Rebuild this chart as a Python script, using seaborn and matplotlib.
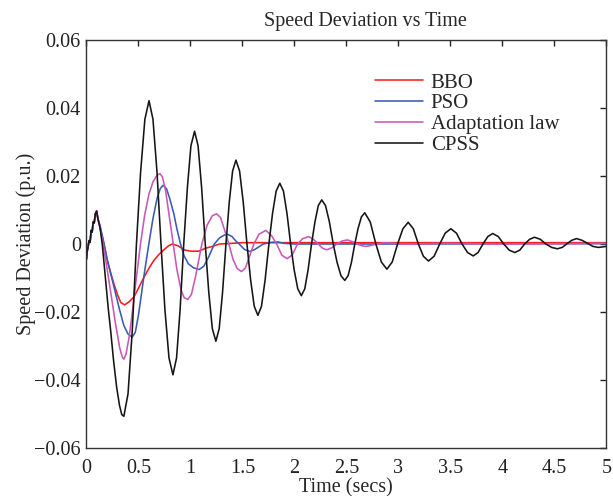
import numpy as np
import pandas as pd
import matplotlib
matplotlib.use("Agg")
import matplotlib.pyplot as plt
import seaborn as sns

# ---- data ----
start_t = [0.0, 0.008, 0.015, 0.025, 0.035, 0.045, 0.055, 0.065, 0.075, 0.085, 0.098, 0.11]
start_v = [-0.0045, -0.002, -0.001, 0.001, 0.0005, 0.004, 0.0035, 0.0065, 0.0062, 0.0088, 0.0097, 0.0075]

bbo_t = [0.13, 0.168, 0.2, 0.233, 0.264, 0.3, 0.33, 0.367, 0.41, 0.457, 0.5, 0.553,
         0.6, 0.649, 0.7, 0.745, 0.79, 0.825, 0.88, 0.94, 1.0, 1.08, 1.15, 1.2,
         1.28, 1.4, 1.51, 2.0, 3.0, 4.0, 5.0]
bbo_v = [0.005, 0.0, -0.0048, -0.0085, -0.0117, -0.015, -0.0172, -0.0179, -0.017, -0.0156, -0.013, -0.0098,
         -0.0072, -0.0048, -0.003, -0.0017, -0.0005, 0.0, -0.0005, -0.0017, -0.0021, -0.0021, -0.0012, -0.0008,
         0.0, 0.0002, 0.0004, 0.0004, 0.0004, 0.0004, 0.0004]

pso_t = [0.13, 0.16, 0.2, 0.24, 0.28, 0.32, 0.36, 0.40, 0.44, 0.47, 0.5, 0.53, 0.56, 0.60,
         0.64, 0.68, 0.71, 0.738, 0.77, 0.80, 0.84, 0.87, 0.905, 0.94, 0.98, 1.03, 1.085,
         1.13, 1.18, 1.23, 1.28, 1.33, 1.363, 1.4, 1.44, 1.47, 1.52, 1.572, 1.62, 1.7,
         1.78, 1.844, 1.9, 2.0, 3.0, 5.0]
pso_v = [0.0055, 0.0015, -0.0045, -0.0095, -0.0145, -0.0195, -0.024, -0.0265, -0.0274, -0.026, -0.021, -0.0145, -0.008, 0.0,
         0.0075, 0.0135, 0.0163, 0.0173, 0.0163, 0.0135, 0.009, 0.0045, 0.0, -0.0035, -0.0058, -0.007, -0.0075,
         -0.0065, -0.0035, 0.0, 0.0018, 0.0027, 0.0028, 0.0022, 0.0008, 0.0, -0.0016, -0.0022, -0.0016, 0.0,
         0.0005, 0.0006, 0.0002, 0.0, 0.0, 0.0001]

adl_t = [0.13, 0.16, 0.2, 0.24, 0.28, 0.32, 0.345, 0.36, 0.38, 0.41, 0.44, 0.48, 0.52, 0.56,
         0.60, 0.64, 0.68, 0.707, 0.73, 0.76, 0.80, 0.835, 0.87, 0.91, 0.94, 0.976, 1.01,
         1.05, 1.11, 1.16, 1.21, 1.252, 1.29, 1.33, 1.37, 1.41, 1.45, 1.492, 1.53, 1.57,
         1.61, 1.66, 1.726, 1.78, 1.83, 1.88, 1.93, 1.98, 2.03, 2.08, 2.14, 2.19, 2.23,
         2.27, 2.31, 2.36, 2.41, 2.46, 2.51, 2.56, 2.6, 2.65, 2.69, 2.74, 2.79, 2.88,
         2.95, 3.05, 3.5, 4.0, 5.0]
adl_v = [0.005, 0.0, -0.0075, -0.0155, -0.0235, -0.0305, -0.0333, -0.0339, -0.0325, -0.0275, -0.0205, -0.01, 0.0, 0.0085,
         0.0145, 0.0183, 0.0203, 0.0207, 0.0198, 0.016, 0.0075, 0.0, -0.0075, -0.0135, -0.0158, -0.0163, -0.0148,
         -0.0095, 0.0, 0.0055, 0.0083, 0.0089, 0.0078, 0.004, 0.0, -0.0045, -0.0072, -0.0081, -0.007, -0.0035,
         0.0, 0.0029, 0.004, 0.0025, 0.0, -0.0033, -0.0043, -0.0032, 0.0, 0.0016, 0.0022, 0.0012, 0.0,
         -0.0012, -0.0017, -0.0011, 0.0, 0.0009, 0.0012, 0.0007, 0.0, -0.0005, -0.0007, -0.0004, 0.0, 0.0004,
         0.0002, 0.0, 0.0002, 0.0, 0.0002]

cpss_t = [0.13, 0.152, 0.185, 0.21, 0.233, 0.26, 0.29, 0.318, 0.34, 0.36,
          0.40, 0.441, 0.481, 0.521, 0.562, 0.602,
          0.640, 0.679, 0.717, 0.755, 0.794, 0.832,
          0.867, 0.901, 0.936, 0.971, 1.005, 1.04,
          1.074, 1.108, 1.143, 1.177, 1.211, 1.245,
          1.277, 1.309, 1.342, 1.374, 1.406, 1.438,
          1.473, 1.508, 1.544, 1.579, 1.614, 1.649,
          1.684, 1.719, 1.755, 1.79, 1.825, 1.86,
          1.895, 1.929, 1.964, 1.998, 2.033, 2.067,
          2.1, 2.132, 2.165, 2.198, 2.23, 2.263,
          2.3, 2.337, 2.374, 2.411, 2.448, 2.485,
          2.517, 2.549, 2.581, 2.613, 2.645, 2.677,
          2.73, 2.784, 2.837, 2.89,
          2.941, 2.993, 3.044, 3.095,
          3.144, 3.193, 3.241, 3.29,
          3.344, 3.398, 3.451, 3.505,
          3.559, 3.613, 3.666, 3.72,
          3.767, 3.814, 3.861, 3.908,
          3.961, 4.014, 4.067, 4.12,
          4.168, 4.215, 4.263, 4.31,
          4.365, 4.42, 4.475, 4.53,
          4.576, 4.622, 4.668, 4.714,
          4.767, 4.82, 4.872, 4.925, 5.0]
cpss_v = [0.005, 0.0, -0.011, -0.019, -0.0255, -0.034, -0.042, -0.0475, -0.0502, -0.0507,
          -0.0441, -0.0254, 0.0, 0.0211, 0.0367, 0.0422,
          0.0367, 0.0211, 0.0, -0.0193, -0.0335, -0.0385,
          -0.0335, -0.0193, 0.0, 0.0166, 0.0289, 0.0332,
          0.0289, 0.0166, 0.0, -0.0143, -0.0249, -0.0286,
          -0.0249, -0.0143, 0.0, 0.0124, 0.0215, 0.0247,
          0.0215, 0.0124, 0.0, -0.0105, -0.0183, -0.021,
          -0.0183, -0.0105, 0.0, 0.009, 0.0156, 0.0179,
          0.0156, 0.009, 0.0, -0.0076, -0.0132, -0.0152,
          -0.0132, -0.0076, 0.0, 0.0065, 0.0113, 0.013,
          0.0113, 0.0065, 0.0, -0.0054, -0.0093, -0.0107,
          -0.0093, -0.0054, 0.0, 0.0046, 0.008, 0.0092,
          0.0065, 0.0, -0.0053, -0.0074,
          -0.0053, 0.0, 0.0045, 0.0064,
          0.0045, 0.0, -0.0036, -0.005,
          -0.0036, 0.0, 0.0032, 0.0045,
          0.0032, 0.0, -0.0025, -0.0035,
          -0.0025, 0.0, 0.0022, 0.0031,
          0.0022, 0.0, -0.0018, -0.0025,
          -0.0018, 0.0, 0.0014, 0.002,
          0.0014, 0.0, -0.001, -0.0014,
          -0.001, 0.0001, 0.0011, 0.0016,
          0.0011, 0.0002, -0.0007, -0.001, -0.0007]

series_names = ["BBO", "PSO", "Adaptation law", "CPSS"]
series_colors = ["#ff1a1a", "#3a5bb5", "#c957b8", "#151515"]
xtick_vals = [0, 0.5, 1, 1.5, 2, 2.5, 3, 3.5, 4, 4.5, 5]
xtick_labels = ["0", "0.5", "1", "1.5", "2", "2.5", "3", "3.5", "4", "4.5", "5"]
ytick_vals = [-0.06, -0.04, -0.02, 0, 0.02, 0.04, 0.06]
ytick_labels = ["\u22120.06", "\u22120.04", "\u22120.02", "0", "0.02", "0.04", "0.06"]

# ---- build long table ----
frames = []
for name, tt, vv in zip(series_names,
                        [bbo_t, pso_t, adl_t, cpss_t],
                        [bbo_v, pso_v, adl_v, cpss_v]):
    frames.append(pd.DataFrame({"t": start_t + tt, "v": start_v + vv, "method": name}))
df = pd.concat(frames, ignore_index=True)

sns.set_style("white")
plt.rcParams["font.family"] = ["Liberation Serif", "DejaVu Serif"]
plt.rcParams["font.size"] = 14.5

fig = plt.figure(figsize=(6.13, 4.96), dpi=100)
ax = fig.add_axes([0.141, 0.097, 0.848, 0.822])

sns.lineplot(data=df, x="t", y="v", hue="method", hue_order=series_names,
             palette=dict(zip(series_names, series_colors)), estimator=None,
             sort=False, linewidth=1.15, ax=ax)

ax.set_xlim(0, 5)
ax.set_ylim(-0.06, 0.06)
ax.set_xticks(xtick_vals)
ax.set_xticklabels(xtick_labels)
ax.set_yticks(ytick_vals)
ax.set_yticklabels(ytick_labels)
ax.tick_params(direction="in", length=4, width=1, top=True, right=True,
               labelsize=14.5, colors="#222222")
ax.tick_params(axis="x", pad=8)
ax.tick_params(axis="y", pad=4)
for sp in ax.spines.values():
    sp.set_visible(True)
    sp.set_color("#333333")
    sp.set_linewidth(1.0)

ax.set_xlabel("Time (secs)", fontsize=14.5, labelpad=0)
ax.set_ylabel("Speed Deviation (p.u.)", fontsize=14.5, labelpad=-1)
ax.set_title("Speed Deviation vs Time", fontsize=14.5, x=0.537, pad=10)

handles, labels = ax.get_legend_handles_labels()
ax.legend(handles, labels, frameon=False, loc="upper left",
          bbox_to_anchor=(0.54, 0.94), handlelength=2.3, handletextpad=0.35,
          labelspacing=0.06, fontsize=15, borderaxespad=0)

fig.savefig("out.png", dpi=100)
